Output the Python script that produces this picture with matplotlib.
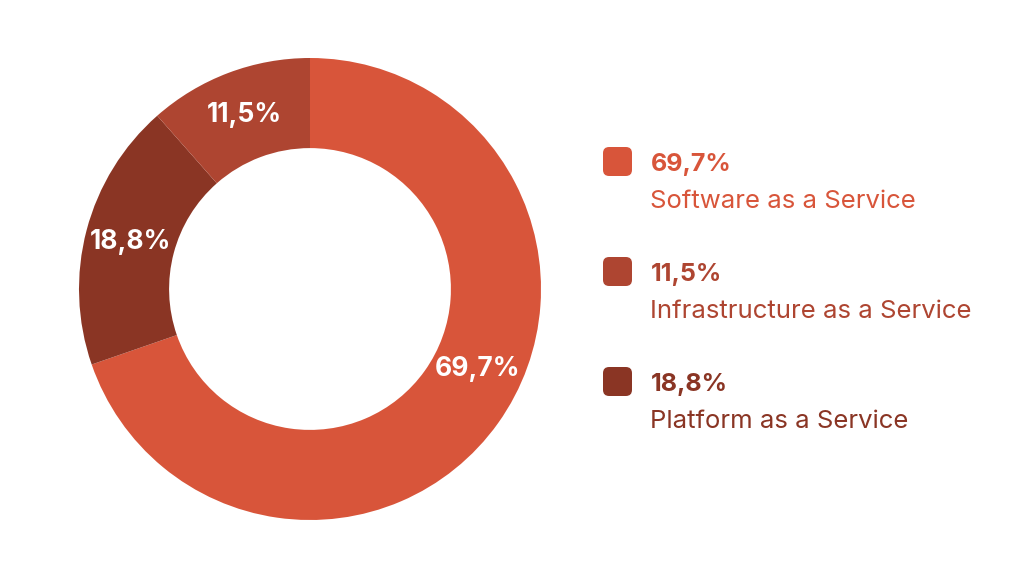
import matplotlib.pyplot as plt
from matplotlib.patches import FancyBboxPatch
import numpy as np

plt.rcParams['font.family'] = ['Inter', 'DejaVu Sans']

# legend order
categories = ['Software as a Service', 'Infrastructure as a Service', 'Platform as a Service']
values = [69.7, 11.5, 18.8]
labels = ['69,7%', '11,5%', '18,8%']
colors = ['#D8553A', '#AE4531', '#8A3524']
# clockwise order around the ring starting at 12 o'clock
ring_order = [0, 2, 1]

W, H = 1024, 576
fig = plt.figure(figsize=(W / 100, H / 100), dpi=100)

# donut axes: centre (310, 289) px, radius 231 px
cx, cy, r = 310, 289, 231
ax = fig.add_axes([(cx - r) / W, (H - cy - r) / H, 2 * r / W, 2 * r / H])
wedges, _ = ax.pie([values[i] for i in ring_order],
                   colors=[colors[i] for i in ring_order],
                   startangle=90, counterclock=False, radius=1,
                   wedgeprops=dict(width=0.39, edgecolor='none'))
ax.set_xlim(-1, 1)
ax.set_ylim(-1, 1)
ax.set_aspect('equal')
ax.axis('off')

for k, w in enumerate(wedges):
    i = ring_order[k]
    ang = (w.theta1 + w.theta2) / 2
    if i == 0:
        ang += 10  # big slice label sits a bit higher
    rr = 0.805
    ax.text(rr * np.cos(np.radians(ang)), rr * np.sin(np.radians(ang)), labels[i],
            color='white', fontsize=19, fontweight='bold', ha='center', va='center')

# legend
x_box, y0, step, size = 603, 147, 110, 29
for i, cat in enumerate(categories):
    yt = y0 + i * step
    box = FancyBboxPatch(((x_box) / W, (H - yt - size) / H), size / W, size / H,
                         boxstyle='round,pad=0,rounding_size=0.006',
                         transform=fig.transFigure, facecolor=colors[i],
                         edgecolor='none', mutation_aspect=W / H)
    fig.patches.append(box)
    fig.text(651 / W, (H - yt - 17) / H, labels[i], color=colors[i],
             fontsize=18, fontweight='bold', ha='left', va='center')
    fig.text(650 / W, (H - yt - 54) / H, cat, color=colors[i],
             fontsize=18.5, ha='left', va='center')

fig.savefig('out.png', dpi=100, facecolor='white')
